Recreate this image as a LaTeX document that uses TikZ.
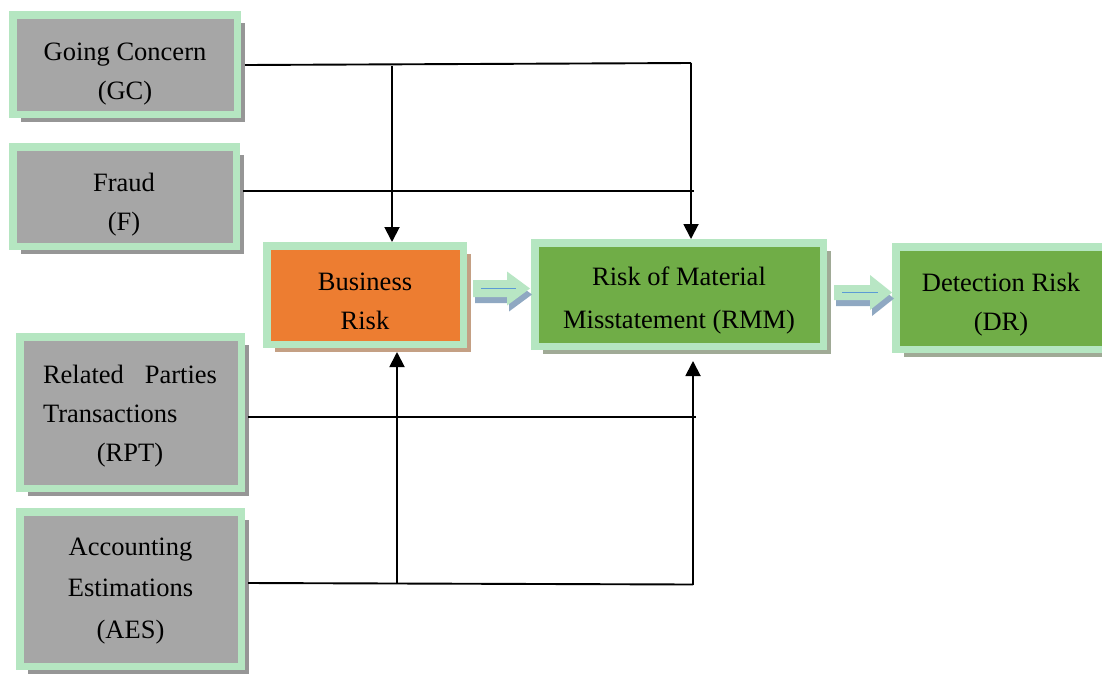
\documentclass[tikz,border=0pt]{standalone}
\usepackage{fontspec}
\setmainfont{Liberation Serif}
\usetikzlibrary{arrows.meta,shadows,calc}
\definecolor{bgreen}{RGB}{181,230,193}
\definecolor{boxgray}{RGB}{166,166,166}
\definecolor{gshadow}{RGB}{150,150,150}
\definecolor{borange}{RGB}{237,125,49}
\definecolor{oshadow}{RGB}{196,160,132}
\definecolor{bgreenfill}{RGB}{112,173,71}
\definecolor{grshadow}{RGB}{160,170,150}
\definecolor{arrfill}{RGB}{184,230,196}
\definecolor{arrshadow}{RGB}{143,168,194}
\definecolor{arrline}{RGB}{91,155,213}
\tikzset{
  box/.style={draw=bgreen, line width=7.5pt, outer sep=3.75pt, inner sep=0pt},
  graybox/.style={box, fill=boxgray, drop shadow={shadow xshift=8pt, shadow yshift=-8pt, fill=gshadow, opacity=1}},
  orangebox/.style={box, fill=borange, drop shadow={shadow xshift=8pt, shadow yshift=-8pt, fill=oshadow, opacity=1}},
  greenbox/.style={box, fill=bgreenfill, drop shadow={shadow xshift=8pt, shadow yshift=-8pt, fill=grshadow, opacity=1}},
  txt/.style={font=\fontsize{26.5}{39}\selectfont, align=center, inner sep=0pt, anchor=base},
  conn/.style={line width=1.9pt, black},
  tip/.style={-{Triangle[width=15pt,length=15pt]}},
}
\begin{document}
\begin{tikzpicture}[x=1pt,y=-1pt]
\clip (0,0) rectangle (1102,673);
\fill[white] (0,0) rectangle (1102,673);

% boxes
\node[graybox, minimum width=224.5pt, minimum height=99.5pt] (gc) at (125,64.5) {};
\node[graybox, minimum width=223.5pt, minimum height=99.5pt] (f) at (124.5,196.5) {};
\node[graybox, minimum width=221.5pt, minimum height=151.5pt] (rpt) at (130.5,412.5) {};
\node[graybox, minimum width=221.5pt, minimum height=154.5pt] (aes) at (130.5,589) {};
\node[orangebox, minimum width=196.5pt, minimum height=98.5pt] (br) at (365,295) {};
\node[greenbox, minimum width=288.5pt, minimum height=103.5pt] (rmm) at (679,294.5) {};
\node[greenbox, minimum width=210.5pt, minimum height=102.5pt] (dr) at (1001,298) {};

% texts (anchor base = baseline of last line; first line with text width)
\node[txt] (gct) at (125,99) {Going Concern\\(GC)};
\node[txt] (ft) at (124,230) {Fraud\\(F)};
\node[txt, text width=174pt, align=left] (rptt) at (130,383) {Related\hfill Parties\\Transactions\\\hspace*{\fill}(RPT)\hspace*{\fill}\null};
\node[txt, font=\fontsize{26.5}{41.5}\selectfont] (aest) at (130.5,638) {Accounting\\Estimations\\(AES)};
\node[txt] (brt) at (365,329) {Business\\Risk};
\node[txt, font=\fontsize{26.5}{43}\selectfont] (rmmt) at (679,328) {Risk of Material\\Misstatement (RMM)};
\node[txt] (drt) at (1001,330) {Detection Risk\\(DR)};

% block arrows
\begin{scope}[shift={($(br.east)+(6,-6.5)$)}]
  \fill[arrshadow] (2,-2.5) -- (36,-2.5) -- (36,-11) -- (59,6) -- (36,23) -- (36,14.5) -- (2,14.5) -- cycle;
  \fill[arrfill] (0,-8.5) -- (34,-8.5) -- (34,-17) -- (57,0) -- (34,17) -- (34,8.5) -- (0,8.5) -- cycle;
  \draw[arrline, line width=1.2pt] (8,0) -- (43,0);
\end{scope}
\begin{scope}[shift={($(rmm.east)+(7,-2)$)}]
  \fill[arrshadow] (2,-1.5) -- (38,-1.5) -- (38,-11.5) -- (60,6) -- (38,23.5) -- (38,13.5) -- (2,13.5) -- cycle;
  \fill[arrfill] (0,-7.5) -- (36,-7.5) -- (36,-17.5) -- (58,0) -- (36,17.5) -- (36,7.5) -- (0,7.5) -- cycle;
  \draw[arrline, line width=1.2pt] (8,0) -- (44,0);
\end{scope}

% connectors
\coordinate (j1) at (691,63);
\coordinate (j2) at (392,66);
\coordinate (j3) at (693,584.5);
\coordinate (j4) at (397,584);
\draw[conn] ([shift={(4,0.5)}]gc.east) -- (j1);
\draw[conn, tip] (j1) -- (j1 |- rmm.north);
\draw[conn, tip] (j2) -- (j2 |- br.north);
\draw[conn] ([shift={(3,-5.5)}]f.east) -- ([shift={(3,-5.5)}]f.east -| j1);
\draw[conn] ([shift={(3,4.5)}]rpt.east) -- ([shift={(3,4.5)}]rpt.east -| j3);
\draw[conn] ([shift={(3,-6)}]aes.east) -- (j3);
\draw[conn, tip] (j3) -- ($(j3 |- rmm.south)+(0,11)$);
\draw[conn, tip] (j4) -- ($(j4 |- br.south)+(0,4)$);
\end{tikzpicture}
\end{document}
